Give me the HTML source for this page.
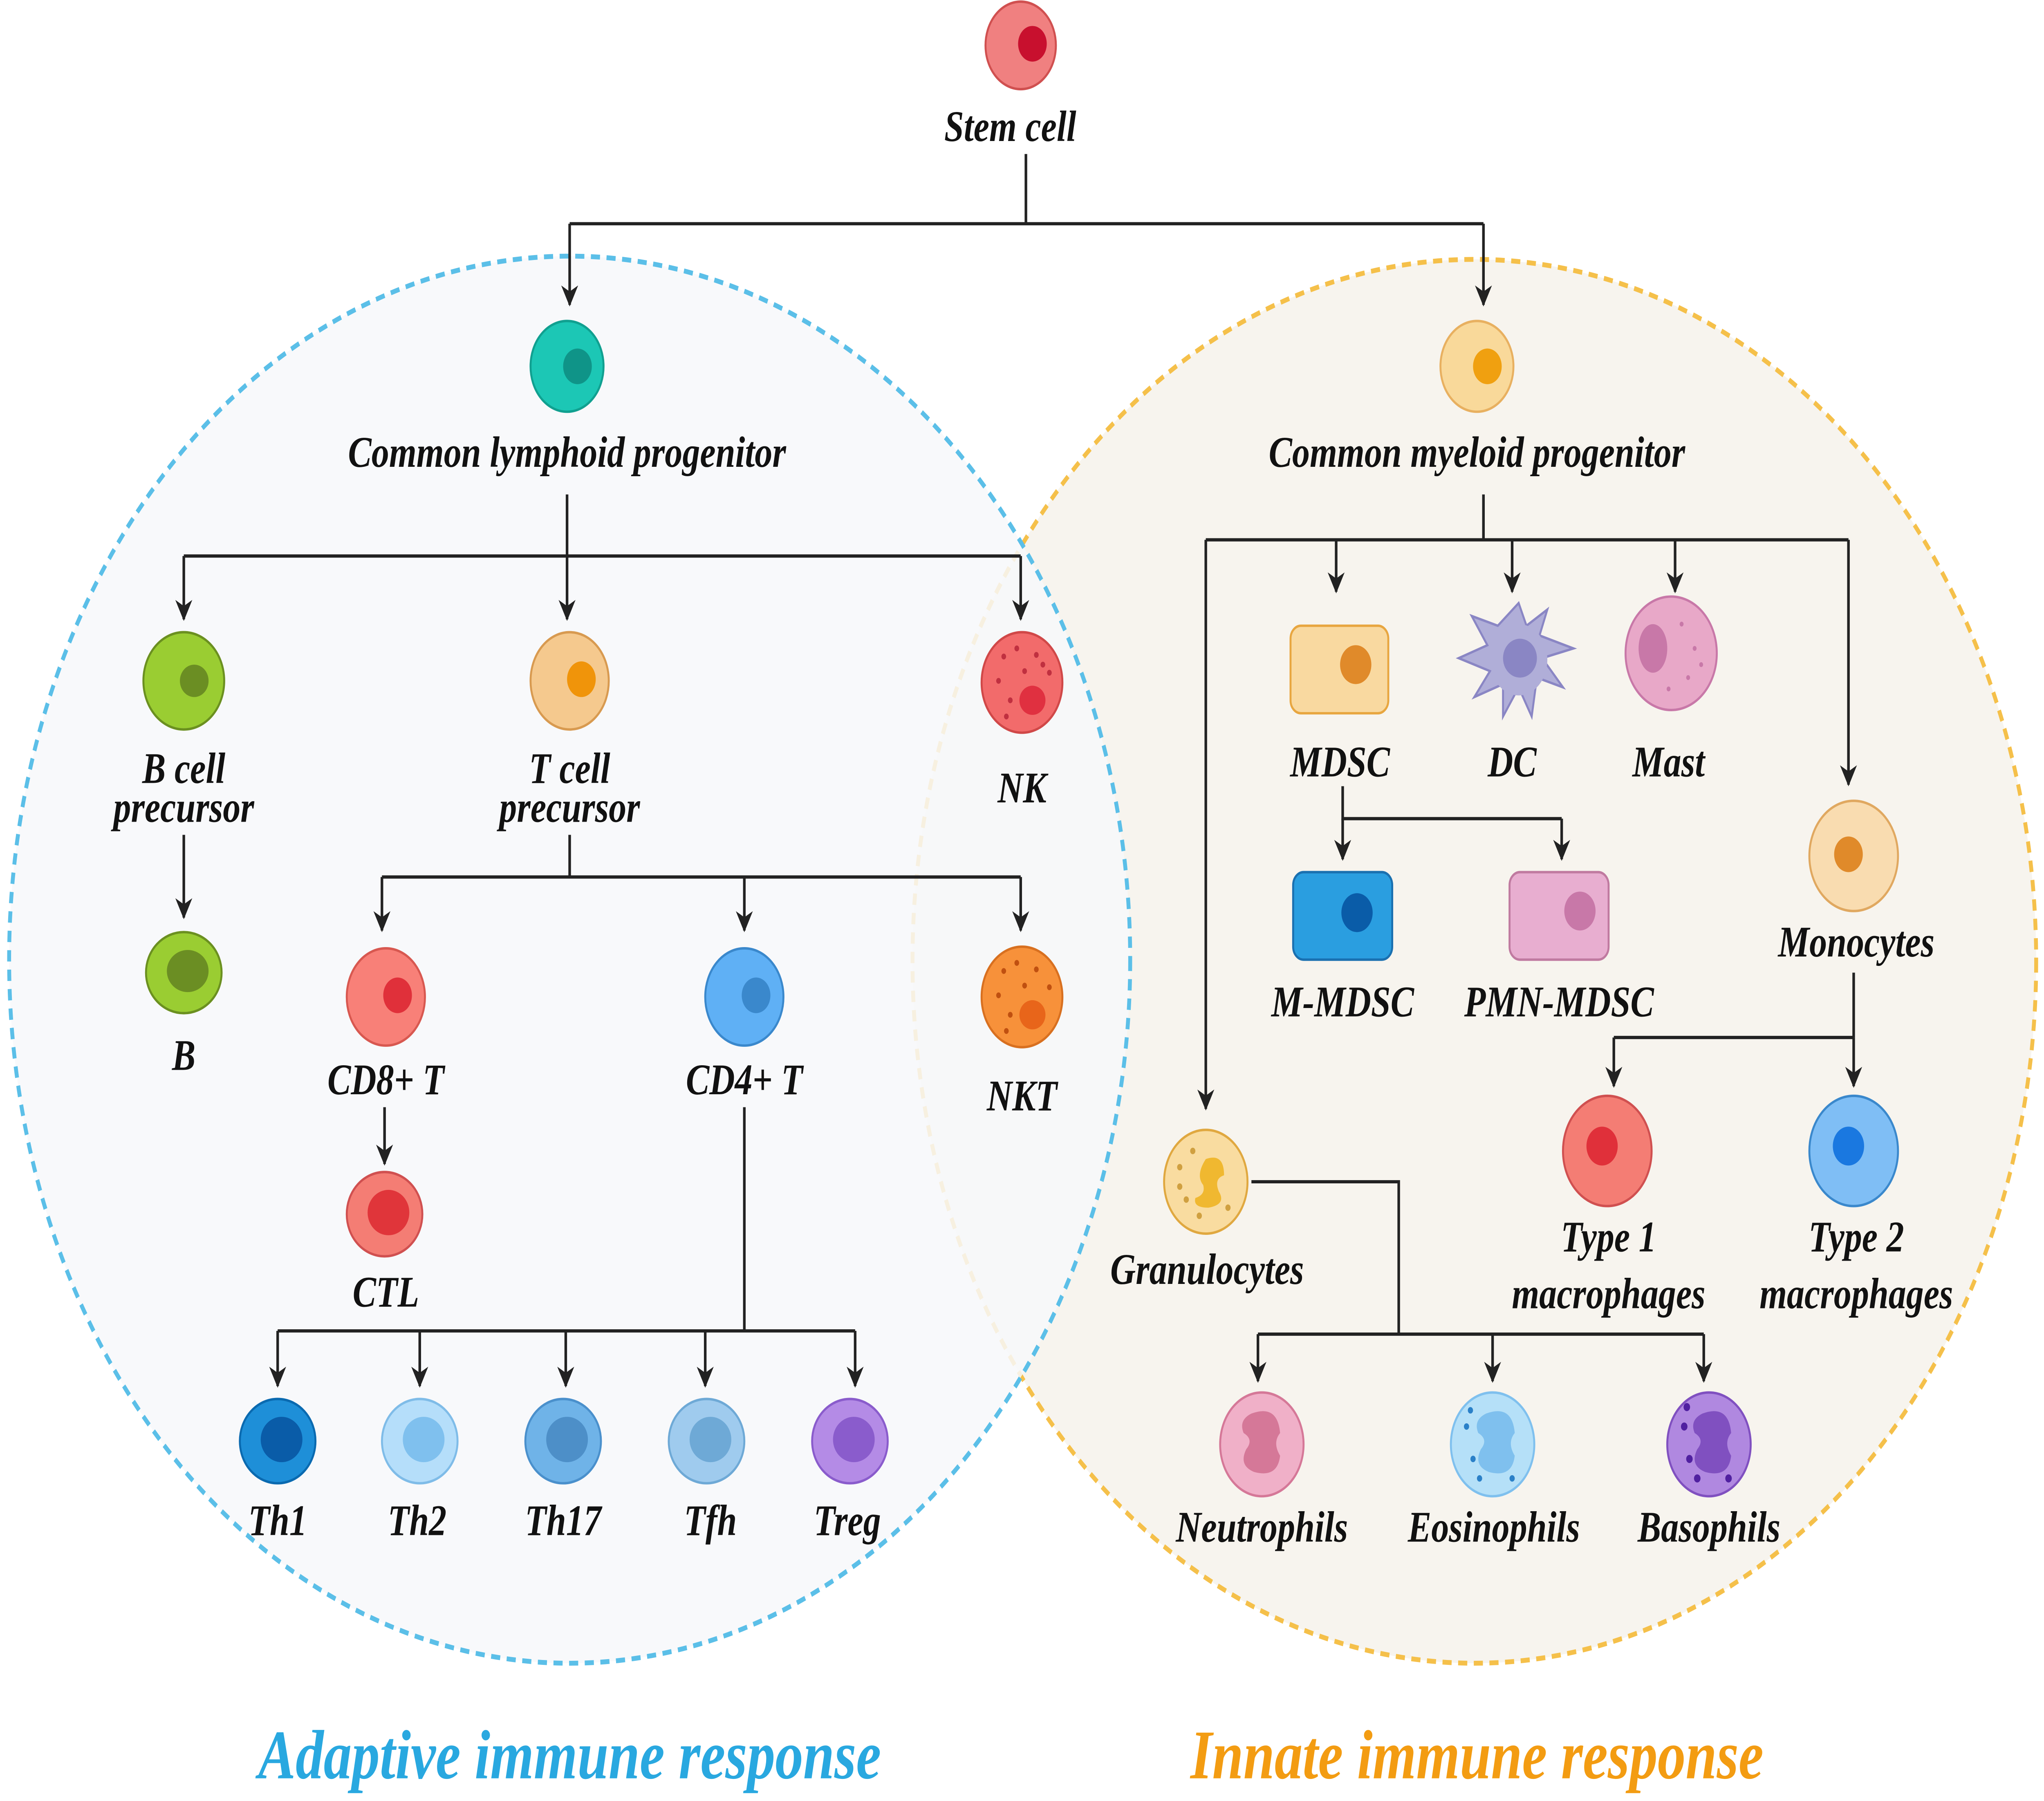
<!DOCTYPE html>
<html><head><meta charset="utf-8"><style>
html,body{margin:0;padding:0;background:#fff;overflow:hidden;width:100%;height:100%;}
svg{display:block;width:100vw;height:100vh;}
text{font-family:"Liberation Serif",serif;font-weight:bold;font-style:italic;fill:#111;text-anchor:middle;}
</style></head><body>
<svg viewBox="0 0 1568 1111" preserveAspectRatio="none" xmlns="http://www.w3.org/2000/svg">
<defs>
<marker id="b" viewBox="0 0 12 12" refX="11" refY="6" markerWidth="13" markerHeight="13" orient="auto" markerUnits="userSpaceOnUse">
<path d="M0,0 L12,6 L0,12 L3.5,6 z" fill="#222"/></marker>
</defs>
<rect width="1568" height="1111" fill="#fff"/>
<ellipse cx="1131" cy="593" rx="431" ry="433" fill="#f7f4ee" stroke="#f5c04a" stroke-width="3" stroke-dasharray="7,5"/>
<ellipse cx="437" cy="592" rx="430" ry="434" fill="#f7f8fa" fill-opacity="0.85" stroke="#5bbfe8" stroke-width="3" stroke-dasharray="7,5"/>
<g stroke="#222" stroke-width="2" fill="none">
<path d="M787,95 V138 M437,138 H1138"/>
<path d="M437,138 V188" marker-end="url(#b)"/><path d="M1138,138 V188" marker-end="url(#b)"/>
<path d="M435,305 V343 M141,343 H783"/>
<path d="M141,343 V382" marker-end="url(#b)"/><path d="M435,343 V382" marker-end="url(#b)"/><path d="M783,343 V382" marker-end="url(#b)"/>
<path d="M141,515 V566" marker-end="url(#b)"/>
<path d="M437,515 V541 M293,541 H783"/>
<path d="M293,541 V574" marker-end="url(#b)"/><path d="M571,541 V574" marker-end="url(#b)"/><path d="M783,541 V574" marker-end="url(#b)"/>
<path d="M295,683 V718" marker-end="url(#b)"/>
<path d="M571,683 V821 M213,821 H656"/>
<path d="M213,821 V855" marker-end="url(#b)"/><path d="M322,821 V855" marker-end="url(#b)"/><path d="M434,821 V855" marker-end="url(#b)"/><path d="M541,821 V855" marker-end="url(#b)"/><path d="M656,821 V855" marker-end="url(#b)"/>
<path d="M1138,305 V333 M925,333 H1418"/>
<path d="M1025,333 V365" marker-end="url(#b)"/><path d="M1160,333 V365" marker-end="url(#b)"/><path d="M1285,333 V365" marker-end="url(#b)"/>
<path d="M925,333 V684" marker-end="url(#b)"/><path d="M1418,333 V484" marker-end="url(#b)"/>
<path d="M1030,485 V505 H1198"/>
<path d="M1030,505 V530" marker-end="url(#b)"/><path d="M1198,505 V530" marker-end="url(#b)"/>
<path d="M1422,600 V640 M1238,640 H1422"/>
<path d="M1238,640 V670" marker-end="url(#b)"/><path d="M1422,640 V670" marker-end="url(#b)"/>
<path d="M960,729 H1073 V823 M965,823 H1307"/>
<path d="M965,823 V852" marker-end="url(#b)"/><path d="M1145,823 V852" marker-end="url(#b)"/><path d="M1307,823 V852" marker-end="url(#b)"/>
</g>
<g stroke-width="1.5">
<circle cx="783" cy="28" r="27" fill="#f08080" stroke="#d05050"/><circle cx="792" cy="27" r="11" fill="#c8102e" stroke="none"/>
<circle cx="435" cy="226" r="28" fill="#1cc7b5" stroke="#10a090"/><circle cx="443" cy="226" r="11" fill="#0f9488" stroke="none"/>
<ellipse cx="141" cy="420" rx="31" ry="30" fill="#9acd32" stroke="#6b9020"/><ellipse cx="149" cy="420" rx="11" ry="10" fill="#6b8e23" stroke="none"/>
<ellipse cx="141" cy="600" rx="29" ry="25" fill="#9acd32" stroke="#6b9020"/><ellipse cx="144" cy="599" rx="16" ry="13" fill="#6b8e23" stroke="none"/>
<circle cx="437" cy="420" r="30" fill="#f5c98e" stroke="#d89a50"/><circle cx="446" cy="419" r="11" fill="#f0940a" stroke="none"/>
<circle cx="784" cy="421" r="31" fill="#f26b6b" stroke="#d04848"/><ellipse cx="792" cy="432" rx="10" ry="9" fill="#e03040" stroke="none"/>
<circle cx="296" cy="615" r="30" fill="#f88078" stroke="#d85850"/><circle cx="305" cy="614" r="11" fill="#e0303a" stroke="none"/>
<circle cx="571" cy="615" r="30" fill="#5fb0f5" stroke="#3a88cc"/><circle cx="580" cy="614" r="11" fill="#3a88cc" stroke="none"/>
<circle cx="784" cy="615" r="31" fill="#f7913a" stroke="#d87020"/><ellipse cx="792" cy="626" rx="10" ry="9" fill="#e8651a" stroke="none"/>
<ellipse cx="295" cy="749" rx="29" ry="26" fill="#f47d74" stroke="#d05050"/><ellipse cx="298" cy="748" rx="16" ry="14" fill="#e0353a" stroke="none"/>
<ellipse cx="213" cy="889" rx="29" ry="26" fill="#1e8fd8" stroke="#0a6ab0"/><ellipse cx="216" cy="888" rx="16" ry="14" fill="#0a5ca8" stroke="none"/>
<ellipse cx="322" cy="889" rx="29" ry="26" fill="#b5defa" stroke="#7fbce8"/><ellipse cx="325" cy="888" rx="16" ry="14" fill="#7fc0ee" stroke="none"/>
<ellipse cx="432" cy="889" rx="29" ry="26" fill="#6fb3e8" stroke="#4a90cc"/><ellipse cx="435" cy="888" rx="16" ry="14" fill="#4d8fc8" stroke="none"/>
<ellipse cx="542" cy="889" rx="29" ry="26" fill="#9fcbee" stroke="#6ea9d6"/><ellipse cx="545" cy="888" rx="16" ry="14" fill="#6ea9d6" stroke="none"/>
<ellipse cx="652" cy="889" rx="29" ry="26" fill="#b48be6" stroke="#8a5ccc"/><ellipse cx="655" cy="888" rx="16" ry="14" fill="#8a5ccc" stroke="none"/>
<circle cx="1133" cy="226" r="28" fill="#f9d99a" stroke="#e8b060"/><circle cx="1141" cy="226" r="11" fill="#f0a010" stroke="none"/>
<rect x="990" y="386" width="75" height="54" rx="8" fill="#f9d9a0" stroke="#e8a640"/><circle cx="1040" cy="410" r="12" fill="#e08a2a" stroke="none"/>
<path d="M1165,372 l6,14 l16,-10 l-6,16 l26,8 l-24,6 l16,18 l-20,-6 l-4,24 l-10,-18 l-12,18 l0,-20 l-22,8 l12,-16 l-24,-8 l22,-8 l-12,-18 l20,6 z" fill="#b0aed8" stroke="#8a86c4"/>
<circle cx="1165" cy="407" r="22" fill="#b0aed8" stroke="none"/><ellipse cx="1166" cy="406" rx="13" ry="12" fill="#8a86c4" stroke="none"/>
<circle cx="1282" cy="403" r="35" fill="#e8a8c8" stroke="#c878a8"/><ellipse cx="1268" cy="400" rx="11" ry="15" fill="#c878a8" stroke="none"/>
<rect x="992" y="538" width="76" height="54" rx="8" fill="#2a9ee0" stroke="#1a70b0"/><circle cx="1041" cy="563" r="12" fill="#0a5ca8" stroke="none"/>
<rect x="1158" y="538" width="76" height="54" rx="8" fill="#e8aed0" stroke="#c07aa0"/><circle cx="1212" cy="562" r="12" fill="#c878a8" stroke="none"/>
<circle cx="1422" cy="528" r="34" fill="#f9dcb0" stroke="#e0a860"/><circle cx="1418" cy="527" r="11" fill="#e08a2a" stroke="none"/>
<circle cx="1233" cy="710" r="34" fill="#f47d74" stroke="#d05050"/><circle cx="1229" cy="707" r="12" fill="#e0303a" stroke="none"/>
<circle cx="1422" cy="710" r="34" fill="#7fbef5" stroke="#3a88cc"/><circle cx="1418" cy="707" r="12" fill="#1a78e0" stroke="none"/>
<circle cx="925" cy="729" r="32" fill="#f9dca0" stroke="#e0a840"/><path d="M925,715 q14,-4 14,10 q-8,2 -4,10 q6,8 -8,10 q-12,0 -10,-6 q8,-2 6,-8 q-6,-6 2,-16z" fill="#f0b830" stroke="none"/>
<circle cx="968" cy="891" r="32" fill="#f0b0c8" stroke="#d57898"/><path d="M960,872 q20,-6 22,12 q-6,6 0,14 q-2,14 -20,10 q-12,-4 -6,-14 q6,-6 -2,-10 q-4,-8 6,-12z" fill="#d57898" stroke="none"/>
<circle cx="1145" cy="891" r="32" fill="#b5e0f8" stroke="#7fc0ee"/><path d="M1140,872 q20,-6 22,12 q-6,6 0,14 q-2,14 -20,10 q-12,-4 -6,-14 q6,-6 -2,-10 q-4,-8 6,-12z" fill="#7fc0ee" stroke="none"/>
<circle cx="1311" cy="891" r="32" fill="#b088e0" stroke="#8050c0"/><path d="M1306,872 q20,-6 22,12 q-6,6 0,14 q-2,14 -20,10 q-12,-4 -6,-14 q6,-6 -2,-10 q-4,-8 6,-12z" fill="#8050c0" stroke="none"/>
</g>
<g fill="#c03040">
<circle cx="770" cy="405" r="1.8"/><circle cx="780" cy="400" r="1.8"/><circle cx="795" cy="404" r="1.8"/><circle cx="805" cy="415" r="1.8"/><circle cx="766" cy="420" r="1.8"/><circle cx="775" cy="432" r="1.8"/><circle cx="772" cy="442" r="1.8"/><circle cx="786" cy="414" r="1.8"/><circle cx="800" cy="410" r="1.8"/>
</g>
<g fill="#c05010">
<circle cx="770" cy="599" r="1.8"/><circle cx="780" cy="594" r="1.8"/><circle cx="795" cy="598" r="1.8"/><circle cx="805" cy="609" r="1.8"/><circle cx="766" cy="614" r="1.8"/><circle cx="775" cy="626" r="1.8"/><circle cx="772" cy="636" r="1.8"/><circle cx="786" cy="608" r="1.8"/>
</g>
<g fill="#d0a040"><circle cx="905" cy="720" r="2"/><circle cx="910" cy="740" r="2"/><circle cx="915" cy="710" r="2"/><circle cx="942" cy="745" r="2"/><circle cx="905" cy="732" r="2"/><circle cx="920" cy="750" r="2"/></g>
<g fill="#c878a8"><circle cx="1290" cy="385" r="1.5"/><circle cx="1300" cy="400" r="1.5"/><circle cx="1295" cy="418" r="1.5"/><circle cx="1280" cy="425" r="1.5"/><circle cx="1305" cy="410" r="1.5"/></g>
<g fill="#2a80c8"><circle cx="1125" cy="880" r="2"/><circle cx="1130" cy="900" r="2"/><circle cx="1135" cy="912" r="2"/><circle cx="1128" cy="870" r="2"/><circle cx="1160" cy="912" r="2"/></g>
<g fill="#5020a0"><circle cx="1292" cy="880" r="2.5"/><circle cx="1296" cy="900" r="2.5"/><circle cx="1302" cy="912" r="2.5"/><circle cx="1294" cy="868" r="2.5"/><circle cx="1326" cy="912" r="2.5"/></g>
<g font-size="27">
<text x="775" y="87">Stem cell</text>
<text x="435" y="288">Common lymphoid progenitor</text>
<text x="141" y="483">B cell</text><text x="141" y="507">precursor</text>
<text x="141" y="660">B</text>
<text x="437" y="483">T cell</text><text x="437" y="507">precursor</text>
<text x="784" y="495">NK</text>
<text x="296" y="675">CD8+ T</text>
<text x="571" y="675">CD4+ T</text>
<text x="784" y="685">NKT</text>
<text x="296" y="806">CTL</text>
<text x="213" y="947">Th1</text><text x="320" y="947">Th2</text><text x="432" y="947">Th17</text><text x="545" y="947">Tfh</text><text x="650" y="947">Treg</text>
<text x="1133" y="288">Common myeloid progenitor</text>
<text x="1028" y="479">MDSC</text><text x="1160" y="479">DC</text><text x="1280" y="479">Mast</text>
<text x="1030" y="627">M-MDSC</text><text x="1196" y="627">PMN-MDSC</text>
<text x="1424" y="590">Monocytes</text>
<text x="1234" y="772">Type 1</text><text x="1234" y="807">macrophages</text>
<text x="1424" y="772">Type 2</text><text x="1424" y="807">macrophages</text>
<text x="926" y="792">Granulocytes</text>
<text x="968" y="951">Neutrophils</text><text x="1146" y="951">Eosinophils</text><text x="1311" y="951">Basophils</text>
</g>
<text x="437" y="1097" font-size="43" style="fill:#29a8e0">Adaptive immune response</text>
<text x="1133" y="1097" font-size="43" style="fill:#f39c12">Innate immune response</text>
</svg>
</body></html>
